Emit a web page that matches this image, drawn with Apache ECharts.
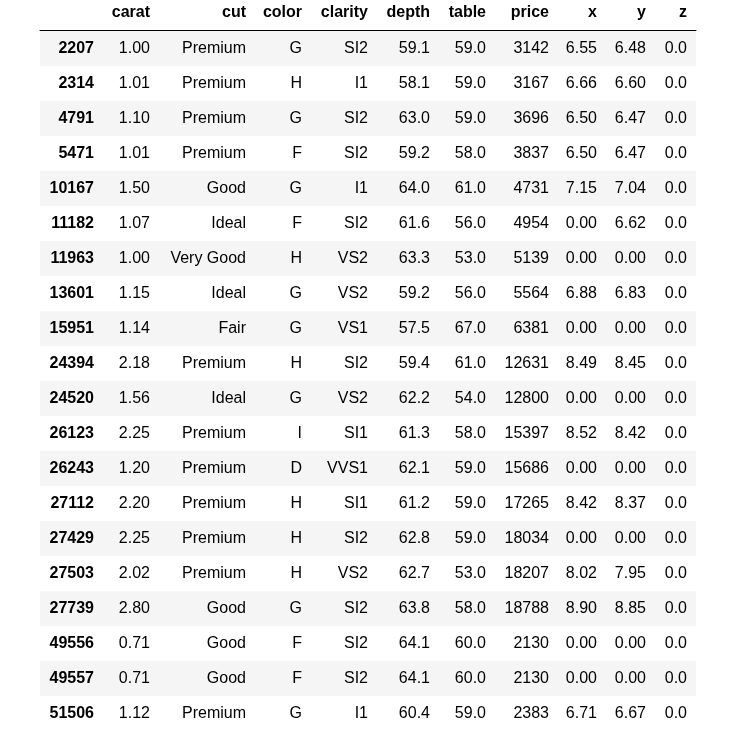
<!DOCTYPE html>
<html>
<head>
	<meta charset="UTF-8">
	<title>diamonds</title>
	<script src="https://cdn.jsdelivr.net/npm/echarts@6/dist/echarts.min.js"></script>
	<style>
		html, body { margin: 0; padding: 0; background: #fff; }
	</style>
</head>

<body>
	<div id="main" style="width: 742px; height: 740px;"></div>
	<script>
		// table data
		var rowIndex = [2207, 2314, 4791, 5471, 10167, 11182, 11963, 13601, 15951, 24394,
			24520, 26123, 26243, 27112, 27429, 27503, 27739, 49556, 49557, 51506];
		var carat = [1.00, 1.01, 1.10, 1.01, 1.50, 1.07, 1.00, 1.15, 1.14, 2.18,
			1.56, 2.25, 1.20, 2.20, 2.25, 2.02, 2.80, 0.71, 0.71, 1.12];
		var cut = ['Premium', 'Premium', 'Premium', 'Premium', 'Good', 'Ideal', 'Very Good', 'Ideal', 'Fair', 'Premium',
			'Ideal', 'Premium', 'Premium', 'Premium', 'Premium', 'Premium', 'Good', 'Good', 'Good', 'Premium'];
		var color = ['G', 'H', 'G', 'F', 'G', 'F', 'H', 'G', 'G', 'H',
			'G', 'I', 'D', 'H', 'H', 'H', 'G', 'F', 'F', 'G'];
		var clarity = ['SI2', 'I1', 'SI2', 'SI2', 'I1', 'SI2', 'VS2', 'VS2', 'VS1', 'SI2',
			'VS2', 'SI1', 'VVS1', 'SI1', 'SI2', 'VS2', 'SI2', 'SI2', 'SI2', 'I1'];
		var depth = [59.1, 58.1, 63.0, 59.2, 64.0, 61.6, 63.3, 59.2, 57.5, 59.4,
			62.2, 61.3, 62.1, 61.2, 62.8, 62.7, 63.8, 64.1, 64.1, 60.4];
		var table = [59.0, 59.0, 59.0, 58.0, 61.0, 56.0, 53.0, 56.0, 67.0, 61.0,
			54.0, 58.0, 59.0, 59.0, 59.0, 53.0, 58.0, 60.0, 60.0, 59.0];
		var price = [3142, 3167, 3696, 3837, 4731, 4954, 5139, 5564, 6381, 12631,
			12800, 15397, 15686, 17265, 18034, 18207, 18788, 2130, 2130, 2383];
		var xs = [6.55, 6.66, 6.50, 6.50, 7.15, 0.00, 0.00, 6.88, 0.00, 8.49,
			0.00, 8.52, 0.00, 8.42, 0.00, 8.02, 8.90, 0.00, 0.00, 6.71];
		var ys = [6.48, 6.60, 6.47, 6.47, 7.04, 6.62, 0.00, 6.83, 0.00, 8.45,
			0.00, 8.42, 0.00, 8.37, 0.00, 7.95, 8.85, 0.00, 0.00, 6.67];
		var zs = [0, 0, 0, 0, 0, 0, 0, 0, 0, 0, 0, 0, 0, 0, 0, 0, 0, 0, 0, 0];
		var headers = ['', 'carat', 'cut', 'color', 'clarity', 'depth', 'table', 'price', 'x', 'y', 'z'];

		// layout: right edge of each column (px)
		var colRight = [94, 150, 246, 302, 368, 430, 486, 549, 597, 646, 687];

		var fmt = function(v, d) { return v.toFixed(d); };
		var columns = [
			rowIndex.map(String),
			carat.map(function(v) { return fmt(v, 2); }),
			cut,
			color,
			clarity,
			depth.map(function(v) { return fmt(v, 1); }),
			table.map(function(v) { return fmt(v, 1); }),
			price.map(String),
			xs.map(function(v) { return fmt(v, 2); }),
			ys.map(function(v) { return fmt(v, 2); }),
			zs.map(function(v) { return fmt(v, 1); })
		];

		var cells = [];
		for (var c = 0; c < columns.length; c++) {
			for (var r = 0; r < rowIndex.length; r++) {
				cells.push({ value: [colRight[c], r], text: columns[c][r], bold: c === 0 });
			}
		}
		var heads = [];
		for (var h = 0; h < headers.length; h++) {
			heads.push({ value: [colRight[h], 0], text: headers[h] });
		}

		var FONT = "'Liberation Sans', Arial, sans-serif";
		var myChart = echarts.init(document.getElementById('main'));

		var option = {
			animation: false,
			backgroundColor: '#fff',
			grid: [
				{ left: 40, right: 46, top: 0, height: 30 },
				{ left: 40, right: 46, top: 31, bottom: 9 }
			],
			xAxis: [
				{
					gridIndex: 0, type: 'value', min: 40, max: 696,
					axisLine: { show: true, onZero: false, lineStyle: { color: '#000', width: 1 } },
					axisTick: { show: false }, axisLabel: { show: false }, splitLine: { show: false }
				},
				{
					gridIndex: 1, type: 'value', min: 40, max: 696, show: false
				}
			],
			yAxis: [
				{ gridIndex: 0, type: 'category', data: ['header'], show: false },
				{
					gridIndex: 1, type: 'category', inverse: true,
					data: rowIndex.map(String),
					axisLine: { show: false }, axisTick: { show: false }, axisLabel: { show: false },
					splitLine: { show: false },
					splitArea: { show: true, areaStyle: { color: ['#f5f5f5', '#ffffff'] } }
				}
			],
			series: [
				{
					type: 'custom',
					xAxisIndex: 0, yAxisIndex: 0,
					data: heads,
					renderItem: function(params, api) {
						var p = api.coord([api.value(0), api.value(1)]);
						return {
							type: 'text', x: p[0], y: p[1] - 2,
							style: {
								text: heads[params.dataIndex].text,
								align: 'right', verticalAlign: 'middle',
								font: 'bold 16px ' + FONT, fill: '#000'
							}
						};
					}
				},
				{
					type: 'custom',
					xAxisIndex: 1, yAxisIndex: 1,
					data: cells,
					renderItem: function(params, api) {
						var p = api.coord([api.value(0), api.value(1)]);
						var cell = cells[params.dataIndex];
						return {
							type: 'text', x: p[0], y: p[1],
							style: {
								text: cell.text,
								align: 'right', verticalAlign: 'middle',
								font: (cell.bold ? 'bold ' : '') + '16px ' + FONT, fill: '#000'
							}
						};
					}
				}
			]
		};
		myChart.setOption(option);
	</script>
</body>
</html>
